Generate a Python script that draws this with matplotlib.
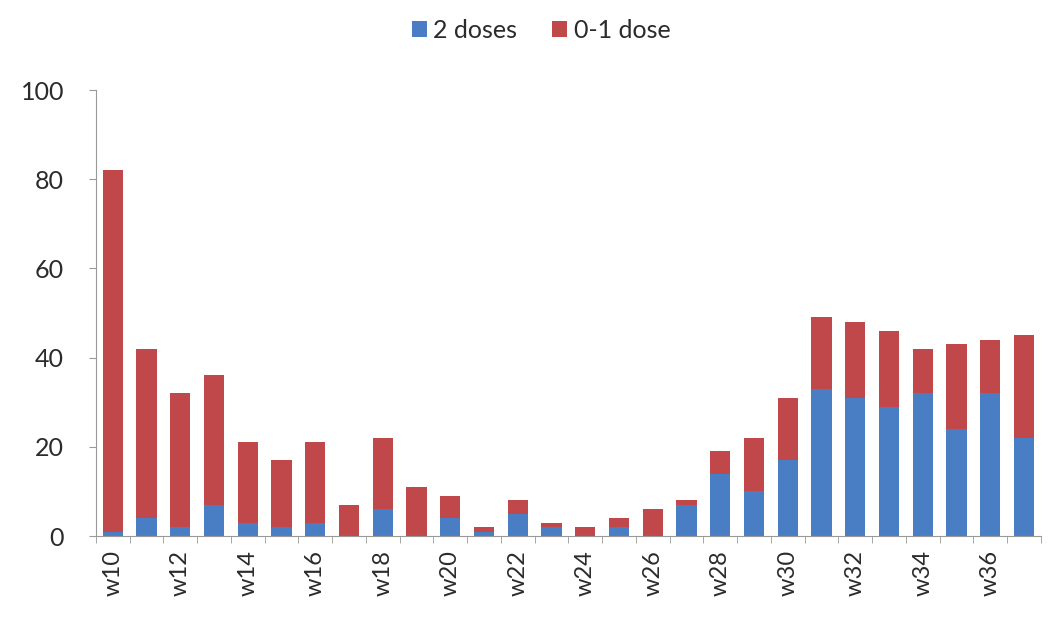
import numpy as np
import matplotlib.pyplot as plt

weeks = ["w%d" % w for w in range(10, 38)]
two_doses = [1, 4, 2, 7, 3, 2, 3, 0, 6, 0, 4, 1, 5, 2, 0, 2, 0, 7, 14, 10, 17, 33, 31, 29, 32, 24, 32, 22]
totals = [82, 42, 32, 36, 21, 17, 21, 7, 22, 11, 9, 2, 8, 3, 2, 4, 6, 8, 19, 22, 31, 49, 48, 46, 42, 43, 44, 45]
zero_one = [t - b for t, b in zip(totals, two_doses)]


def main():
    plt.rcParams['font.family'] = ['Lato', 'DejaVu Sans']

    fig = plt.figure(figsize=(10.51, 6.25), dpi=100)
    ax = fig.add_axes([0.0913, 0.1424, 0.899, 0.7136])

    x = np.arange(len(weeks))
    ax.bar(x, two_doses, width=0.6, color="#4A7EC4", label="2 doses")
    ax.bar(x, zero_one, width=0.6, bottom=two_doses, color="#C0484A", label="0-1 dose")

    ax.set_xlim(-0.5, len(weeks) - 0.5)
    ax.set_ylim(0, 100)
    ax.set_yticks(np.arange(0, 101, 20))
    ax.set_xticks(x[::2])
    ax.set_xticklabels(weeks[::2], rotation=90)
    ax.set_xticks(np.arange(-0.5, len(weeks), 1), minor=True)

    for s in ["top", "right"]:
        ax.spines[s].set_visible(False)
    for s in ["left", "bottom"]:
        ax.spines[s].set_color("#999999")

    ax.tick_params(axis="y", labelsize=18, length=5, color="#999999", labelcolor="#2b2b2b", pad=18)
    ax.tick_params(axis="x", which="major", labelsize=17, length=0, pad=10, labelcolor="#2b2b2b")
    ax.tick_params(axis="x", which="minor", length=5, color="#999999")

    fig.legend(loc="center", bbox_to_anchor=(0.515, 0.952), ncol=2, frameon=False,
               fontsize=18, handlelength=0.6, handleheight=0.6, handletextpad=0.25,
               columnspacing=1.4, labelcolor="#2b2b2b")

    fig.savefig("out.png", dpi=100)


if __name__ == "__main__":
    main()
